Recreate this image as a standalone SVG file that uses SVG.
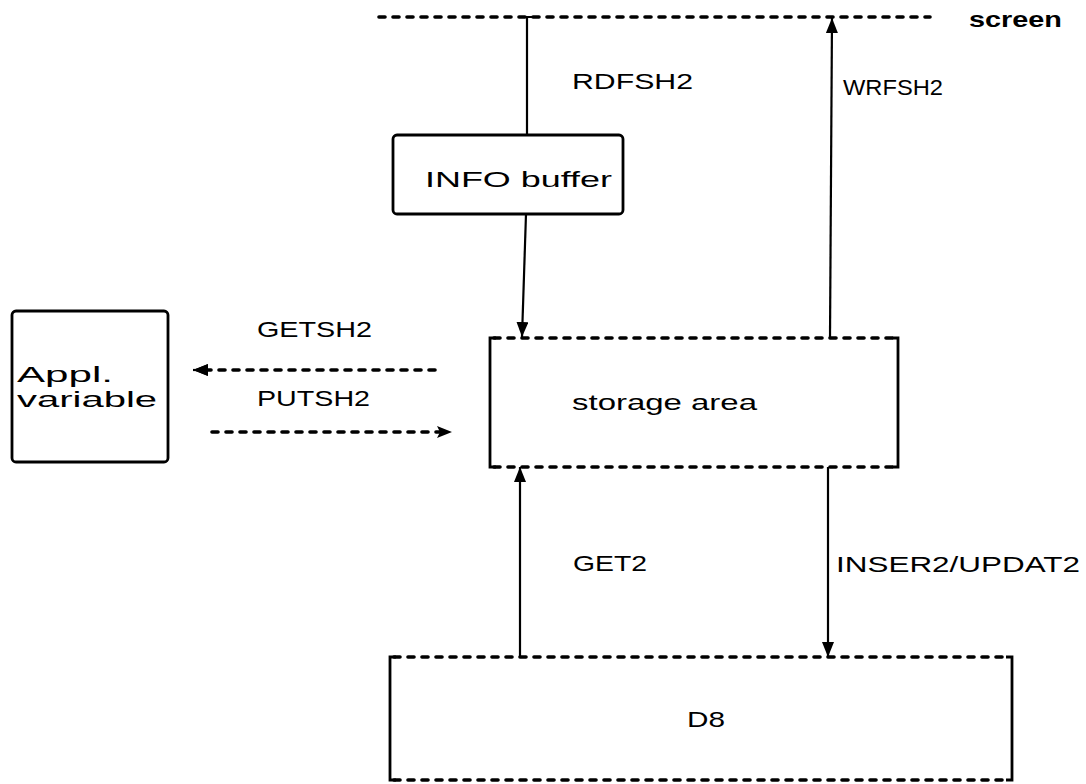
<svg xmlns="http://www.w3.org/2000/svg" width="1086" height="784" viewBox="0 0 1086 784">
<style>
  text { font-family: "Liberation Sans", "DejaVu Sans", sans-serif; font-size: 22px; fill: #000; }
  .solid { fill: none; stroke: #000; stroke-width: 2.2; }
  .box { fill: none; stroke: #000; stroke-width: 2.8; }
  .dash { fill: none; stroke: #000; stroke-width: 3.6; stroke-dasharray: 6 8; stroke-linecap: round; }
</style>
<defs>
  <marker id="ah" markerUnits="userSpaceOnUse" markerWidth="16" markerHeight="12" refX="15" refY="6" orient="auto">
    <path d="M0,0 L15,6 L0,12 Z" fill="#000"/>
  </marker>
</defs>
<rect width="1086" height="784" fill="#fff"/>

<g id="screen">
  <line class="dash" x1="379" y1="17" x2="930" y2="17"/>
  <text x="969" y="27" font-weight="bold" textLength="93" lengthAdjust="spacingAndGlyphs">screen</text>
</g>

<g id="info-buffer">
  <rect class="box" x="393" y="135" width="230" height="79" rx="4"/>
  <text x="425" y="187" textLength="187" lengthAdjust="spacingAndGlyphs">INFO buffer</text>
</g>

<g id="appl-variable">
  <rect class="box" x="12" y="311" width="156" height="151" rx="4"/>
  <text x="17" y="382" textLength="96" lengthAdjust="spacingAndGlyphs">Appl.</text>
  <text x="17" y="407" textLength="140" lengthAdjust="spacingAndGlyphs">variable</text>
</g>

<g id="storage-area">
  <line class="dash" x1="494" y1="338" x2="895" y2="338"/>
  <line class="dash" x1="494" y1="467" x2="895" y2="467"/>
  <path class="box" d="M496,338 H490 V467 H496"/>
  <path class="box" d="M892,338 H898 V467 H892"/>
  <text x="572" y="410" textLength="185" lengthAdjust="spacingAndGlyphs">storage area</text>
</g>

<g id="db">
  <line class="dash" x1="394" y1="657" x2="1008" y2="657"/>
  <line class="dash" x1="394" y1="780" x2="1008" y2="780"/>
  <path class="box" d="M396,657 H390 V780 H396"/>
  <path class="box" d="M1006,657 H1012 V780 H1006"/>
  <text x="687" y="727" font-size="24" textLength="38" lengthAdjust="spacingAndGlyphs">D8</text>
</g>

<g id="connectors">
  <path class="solid" d="M534,17 H527 V135"/>
  <line class="solid" x1="526" y1="214" x2="522" y2="337" marker-end="url(#ah)"/>
  <line class="solid" x1="830" y1="338" x2="832" y2="18" marker-end="url(#ah)"/>
  <line class="dash" x1="435" y1="370" x2="200" y2="370"/>
  <line class="solid" x1="206" y1="370" x2="193" y2="370" marker-end="url(#ah)" stroke-width="0"/>
  <path d="M193,370 L208,364 L205,370 L208,376 Z" fill="#000"/>
  <line class="dash" x1="212" y1="432" x2="444" y2="432"/>
  <path d="M452,432 L437,426 L440,432 L437,438 Z" fill="#000"/>
  <line class="solid" x1="520" y1="657" x2="520" y2="467" marker-end="url(#ah)"/>
  <line class="solid" x1="828" y1="467" x2="828" y2="657" marker-end="url(#ah)"/>
</g>

<g id="labels">
  <text x="572" y="89" textLength="121" lengthAdjust="spacingAndGlyphs">RDFSH2</text>
  <text x="843" y="95" textLength="100" lengthAdjust="spacingAndGlyphs">WRFSH2</text>
  <text x="257" y="337" textLength="115" lengthAdjust="spacingAndGlyphs">GETSH2</text>
  <text x="257" y="406" textLength="113" lengthAdjust="spacingAndGlyphs">PUTSH2</text>
  <text x="573" y="571" textLength="74" lengthAdjust="spacingAndGlyphs">GET2</text>
  <text x="836" y="572" textLength="244" lengthAdjust="spacingAndGlyphs">INSER2/UPDAT2</text>
</g>
</svg>
